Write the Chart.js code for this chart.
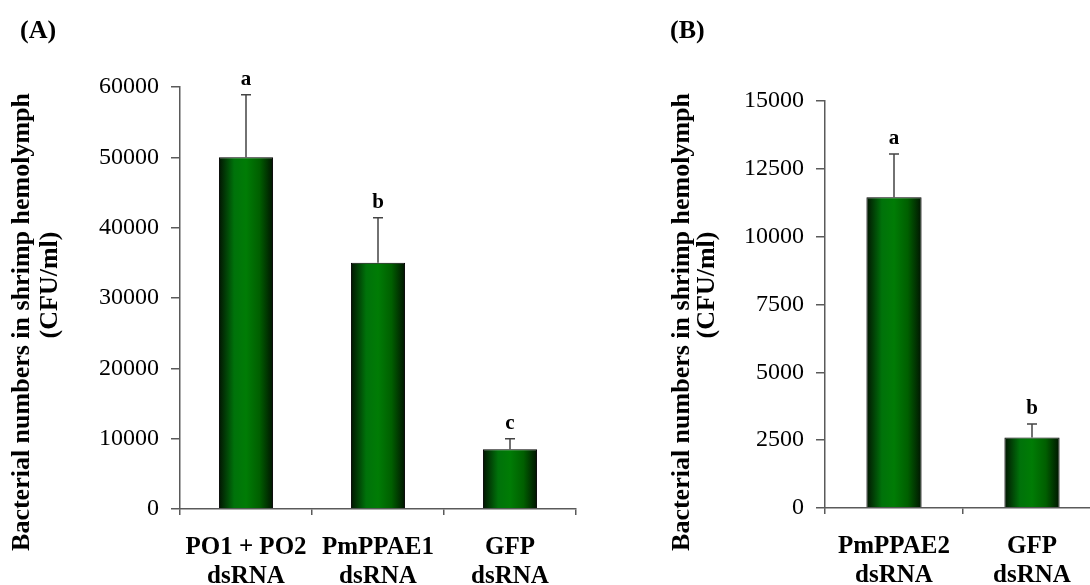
<!DOCTYPE html>
<html>
<head>
<meta charset="utf-8">
<script src="https://cdn.jsdelivr.net/npm/chart.js@4.4.1/dist/chart.umd.min.js"></script>
<style>
  body { margin: 0; background: #fff; overflow: hidden; }
  #wrap { position: relative; width: 1090px; height: 585px; overflow: hidden; }
  canvas { position: absolute; top: 0; }
</style>
</head>
<body>
<div id="wrap">
  <canvas id="chartA" width="600" height="585" style="left:0"></canvas>
  <canvas id="chartB" width="501" height="585" style="left:600px"></canvas>
</div>
<script>
const labelsA = [['PO1 + PO2', 'dsRNA'], ['PmPPAE1', 'dsRNA'], ['GFP', 'dsRNA']];
const valuesA = [50000, 35000, 8500];
const errorsA = [8900, 6400, 1500];
const lettersA = ['a', 'b', 'c'];

const labelsB = [['PmPPAE2', 'dsRNA'], ['GFP', 'dsRNA']];
const valuesB = [11450, 2600];
const errorsB = [1600, 500];
const lettersB = ['a', 'b'];

const yTitle = ['Bacterial numbers in shrimp hemolymph', '(CFU/ml)'];

const serif = "'Liberation Serif', 'Times New Roman', serif";
const axisColor = '#5a5a5a';

// horizontal dark-bright-dark green fill like the original bars
function barFill(pct) {
  return function(c) {
    const xs = c.chart.scales.x;
    if (!xs || !xs.ticks.length) return '#007000';
    const cx = xs.getPixelForValue(c.dataIndex);
    const half = xs.width / xs.ticks.length * pct / 2;
    const g = c.chart.ctx.createLinearGradient(cx - half, 0, cx + half, 0);
    g.addColorStop(0, '#021502');
    g.addColorStop(0.28, '#00720a');
    g.addColorStop(0.5, '#007c05');
    g.addColorStop(0.75, '#005f00');
    g.addColorStop(1, '#011401');
    return g;
  };
}

const extras = {
  id: 'extras',
  afterDatasetsDraw(chart, args, opts) {
    const ctx = chart.ctx, xs = chart.scales.x, ys = chart.scales.y;
    chart.data.datasets[0].data.forEach((v, i) => {
      const x = xs.getPixelForValue(i);
      const y0 = ys.getPixelForValue(v);
      const y1 = ys.getPixelForValue(v + opts.errors[i]);
      ctx.save();
      ctx.strokeStyle = '#444';
      ctx.lineWidth = 1.5;
      ctx.beginPath();
      ctx.moveTo(x, y0);
      ctx.lineTo(x, y1);
      ctx.moveTo(x - 5, y1);
      ctx.lineTo(x + 5, y1);
      ctx.stroke();
      ctx.fillStyle = '#000';
      ctx.font = 'bold 21px ' + serif;
      ctx.textAlign = 'center';
      ctx.textBaseline = 'middle';
      ctx.fillText(opts.letters[i], x, y1 - 15);
      ctx.restore();
    });
  },
  afterDraw(chart, args, opts) {
    const ctx = chart.ctx;
    ctx.save();
    ctx.fillStyle = '#000';
    ctx.textBaseline = 'middle';
    ctx.textAlign = 'left';
    ctx.font = 'bold 26px ' + serif;
    ctx.fillText(opts.panel, opts.panelX, 31);
    ctx.font = 'bold 26px ' + serif;
    ctx.textAlign = 'center';
    yTitle.forEach((t, i) => {
      ctx.save();
      ctx.translate(opts.titleX[i], opts.titleY[i]);
      ctx.rotate(-Math.PI / 2);
      ctx.fillText(t, 0, 0);
      ctx.restore();
    });
    ctx.restore();
  }
};

function makeChart(id, labels, values, errors, letters, maxY, step, pct, pad, yWidth, xHeight, extra) {
  return new Chart(document.getElementById(id), {
    type: 'bar',
    data: {
      labels: labels,
      datasets: [{
        data: values,
        backgroundColor: barFill(pct),
        borderColor: '#000',
        borderWidth: 1,
        categoryPercentage: 1,
        barPercentage: pct
      }]
    },
    options: {
      responsive: false,
      animation: false,
      devicePixelRatio: 1,
      layout: { padding: pad },
      plugins: {
        legend: { display: false },
        tooltip: { enabled: false },
        extras: Object.assign({ errors: errors, letters: letters }, extra)
      },
      scales: {
        x: {
          offset: true,
          grid: { offset: true, drawOnChartArea: false, tickLength: 6, color: axisColor, lineWidth: 1.5 },
          border: { color: axisColor, width: 1.5 },
          ticks: {
            color: '#000',
            font: { family: serif, size: 25, weight: 'bold', lineHeight: 1.15 },
            padding: 18,
            maxRotation: 0,
            autoSkip: false
          },
          afterFit: s => { s.height = xHeight; }
        },
        y: {
          min: 0,
          max: maxY,
          grid: { drawOnChartArea: false, tickLength: 9, color: axisColor, lineWidth: 1.5 },
          border: { color: axisColor, width: 1.5 },
          ticks: {
            stepSize: step,
            color: '#000',
            font: { family: serif, size: 24 },
            padding: 12,
            callback: v => String(v)
          },
          afterFit: s => { s.width = yWidth; }
        }
      }
    },
    plugins: [extras]
  });
}

makeChart('chartA', labelsA, valuesA, errorsA, lettersA, 60000, 10000, 0.41,
  { top: 87, right: 24, left: 0, bottom: 0 }, 180, 76,
  { panel: '(A)', panelX: 20, titleX: [22, 50], titleY: [322, 285] });

makeChart('chartB', labelsB, valuesB, errorsB, lettersB, 15000, 2500, 0.40,
  { top: 101, right: 0, left: 0, bottom: 0 }, 225, 77,
  { panel: '(B)', panelX: 70, titleX: [82, 107], titleY: [322, 285] });
</script>
</body>
</html>
